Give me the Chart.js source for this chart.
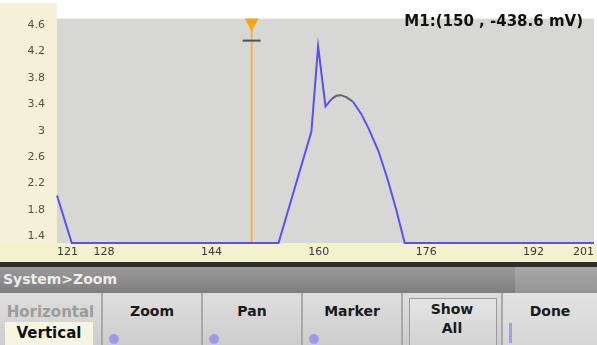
<!DOCTYPE html>
<html>
<head>
<meta charset="utf-8">
<script src="https://cdn.jsdelivr.net/npm/chart.js@4.4.1/dist/chart.umd.min.js"></script>
<style>
  html, body { margin: 0; padding: 0; background: #fff; }
  #screen { position: relative; width: 597px; height: 345px; overflow: hidden; font-family: "DejaVu Sans", sans-serif; }
  #wave { position: absolute; left: 0; top: 0; }
  .sep { position: absolute; left: 0; top: 262px; width: 597px; height: 5px; background: #2e2e2e; }
  .crumb { position: absolute; left: 0; top: 267px; width: 597px; height: 26px;
           background: linear-gradient(#9a9a9a, #7e7e7e); }
  .crumb .rest { position: absolute; left: 515px; top: 0; width: 82px; height: 26px; background: linear-gradient(#a9a9a9, #939393); }
  .crumb span { position: absolute; left: 3px; top: 4px; color: #ececec; font-weight: bold; font-size: 14px; }
  .keys { position: absolute; left: 0; top: 293px; width: 597px; height: 52px; background: linear-gradient(#dedede, #cdcdcd); }
  .key { position: absolute; top: 0; height: 52px; width: 100px; border-right: 2px solid #a8a8a8; box-sizing: border-box; text-align: center; font-weight: bold; font-size: 14px; color: #1a1a1a; }
  .key .t { position: absolute; left: 0; right: 0; top: 10px; }
  .knob { position: absolute; left: 6px; top: 41px; width: 10px; height: 10px; border-radius: 50%; background: #9a9ae6; }
</style>
</head>
<body>
<div id="screen">
  <canvas id="wave" width="597" height="262"></canvas>
  <div class="sep"></div>
  <div class="crumb"><span>System&gt;Zoom</span><div class="rest"></div></div>
  <div class="keys">
    <div class="key" style="left:0;width:103px">
      <div class="t" style="color:#9c9c9c;font-size:15px">Horizontal</div>
      <div style="position:absolute;left:5px;top:29px;width:88px;height:23px;background:#f6f4e2;color:#111;font-size:15px;line-height:23px">Vertical</div>
    </div>
    <div class="key" style="left:103px"><div class="t">Zoom</div><div class="knob"></div></div>
    <div class="key" style="left:203px"><div class="t">Pan</div><div class="knob"></div></div>
    <div class="key" style="left:303px"><div class="t">Marker</div><div class="knob"></div></div>
    <div class="key" style="left:403px">
      <div style="position:absolute;left:6px;top:5px;width:86px;height:47px;border:1px solid #9a9a9a;border-bottom:none;background:linear-gradient(#e4e4e4,#d2d2d2)"></div>
      <div class="t" style="top:8px">Show</div>
      <div class="t" style="top:27px">All</div>
    </div>
    <div class="key" style="left:503px;width:94px;border-right:none;background:linear-gradient(#e2e2e2,#d6d6d6)">
      <div class="t">Done</div>
      <div style="position:absolute;left:6px;top:30px;width:3px;height:20px;background:#a0a0e8"></div>
    </div>
  </div>
</div>
<script>
// sample positions along the horizontal axis and trace values (V)
const sampleX = [121, 123.2, 154.0, 158.9, 159.9, 161.0, 161.9, 162.6, 163.3, 164.1, 165.1, 166.3, 167.4, 168.9, 170.3, 171.5, 172.8, 201];
const sampleY = [2.02, 1.3, 1.3, 2.99, 4.28, 3.37, 3.48, 3.53, 3.54, 3.51, 3.44, 3.26, 3.04, 2.69, 2.25, 1.82, 1.3, 1.3];
const xTicks = [121, 128, 144, 160, 176, 192, 201];
const yTicks = [1.4, 1.8, 2.2, 2.6, 3, 3.4, 3.8, 4.2, 4.6];
const xMin = 121, xMax = 201;
const yMin = 1.3, yMax = 4.7;
const markerX = 150;
const markerText = 'M1:(150 , -438.6 mV)';

const backdrop = {
    id: 'backdrop',
    beforeDraw(chart) {
        const c = chart.ctx, a = chart.chartArea;
        c.save();
        c.fillStyle = '#ffffff';
        c.fillRect(0, 0, chart.width, chart.height);
        c.fillStyle = '#f5f1d9';
        c.fillRect(0, 3, a.left, a.bottom - 3);
        c.fillStyle = '#f3f2cf';
        c.fillRect(0, a.bottom, chart.width, chart.height - a.bottom);
        c.fillStyle = '#d7d7d6';
        c.fillRect(a.left, a.top, a.right - a.left, a.bottom - a.top);
        c.restore();
    },
    beforeDatasetsDraw(chart) {
        const c = chart.ctx, a = chart.chartArea;
        const x = chart.scales.x.getPixelForValue(markerX);
        c.save();
        c.strokeStyle = '#f4b24e';
        c.lineWidth = 2;
        c.beginPath();
        c.moveTo(x, a.top);
        c.lineTo(x, a.bottom);
        c.stroke();
        c.fillStyle = '#f6a51a';
        c.beginPath();
        c.moveTo(x - 7, a.top);
        c.lineTo(x + 7, a.top);
        c.lineTo(x, a.top + 13);
        c.closePath();
        c.fill();
        c.strokeStyle = '#505050';
        c.beginPath();
        c.moveTo(x - 9, a.top + 22);
        c.lineTo(x + 9, a.top + 22);
        c.stroke();
        c.restore();
    },
    afterDraw(chart) {
        const c = chart.ctx;
        c.save();
        c.font = 'bold 15px "DejaVu Sans"';
        c.fillStyle = '#111';
        c.textAlign = 'right';
        c.textBaseline = 'alphabetic';
        c.fillText(markerText, 583, 26);
        c.restore();
    }
};

new Chart(document.getElementById('wave').getContext('2d'), {
    type: 'line',
    data: {
        datasets: [{
            data: sampleX.map((x, i) => ({ x: x, y: sampleY[i] })),
            borderColor: '#5a50f0',
            borderWidth: 2,
            pointRadius: 0,
            tension: 0,
            clip: 3,
            segment: {
                borderColor: ctx => (ctx.p0.parsed.x >= 161.9 && ctx.p1.parsed.x <= 165.1) ? '#62627a' : undefined
            }
        }]
    },
    options: {
        responsive: false,
        animation: false,
        layout: { padding: { top: 7, right: 0, left: 0, bottom: 0 } },
        plugins: { legend: { display: false }, tooltip: { enabled: false } },
        scales: {
            x: {
                type: 'linear',
                min: xMin,
                max: xMax,
                afterBuildTicks: s => { s.ticks = xTicks.map(v => ({ value: v })); },
                afterFit: s => { s.height = 19; },
                grid: { display: false, drawTicks: false },
                border: { display: false },
                ticks: { autoSkip: false, maxRotation: 0, align: 'inner', padding: 3,
                         color: '#3b3a30', font: { family: 'DejaVu Sans', size: 11 } }
            },
            y: {
                min: yMin,
                max: yMax,
                afterBuildTicks: s => { s.ticks = yTicks.map(v => ({ value: v })); },
                afterFit: s => { s.width = 57; },
                grid: { display: false, drawTicks: false },
                border: { display: false },
                ticks: { autoSkip: false, padding: 12, color: '#55523f',
                         font: { family: 'DejaVu Sans', size: 11 },
                         callback: v => String(v) }
            }
        }
    },
    plugins: [backdrop]
});
</script>
</body>
</html>
